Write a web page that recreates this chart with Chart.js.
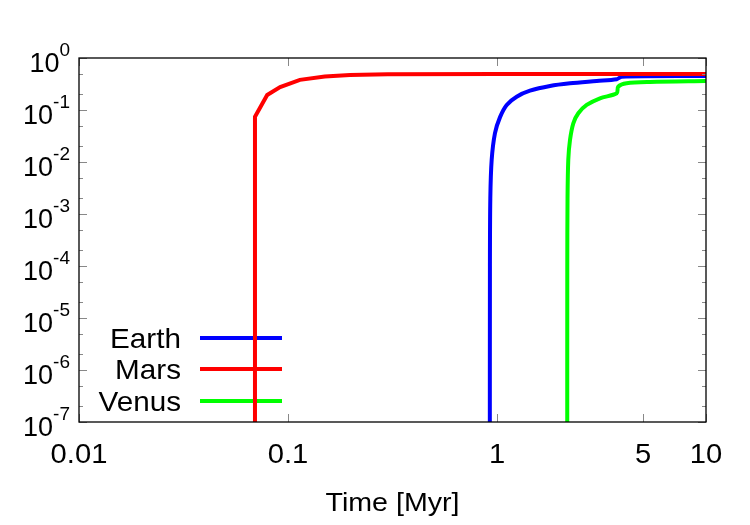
<!DOCTYPE html>
<html>
<head>
<meta charset="utf-8">
<script src="https://cdn.jsdelivr.net/npm/chart.js@4/dist/chart.umd.min.js"></script>
<style>
  html, body { margin: 0; padding: 0; background: #fff; }
  #wrap { width: 750px; height: 525px; }
</style>
</head>
<body>
<div id="wrap"><canvas id="myChart" width="750" height="525"></canvas></div>
<script>
'use strict';
// data (time in Myr, fraction on log axis)
const earthTime = [0.924, 0.925, 0.929, 0.943, 0.978, 1.034, 1.113, 1.242, 1.438, 1.793, 2.235, 3.0, 3.74, 3.95, 10];
const earthValue = [1e-8, 1e-4, 0.002, 0.011, 0.036, 0.073, 0.125, 0.18, 0.235, 0.29, 0.326, 0.361, 0.39, 0.437, 0.45];

const marsTime = [0.0694, 0.0695, 0.0795, 0.0917, 0.114, 0.15, 0.198, 0.3, 1, 10];
const marsValue = [1e-8, 0.074, 0.195, 0.276, 0.38, 0.44, 0.47, 0.485, 0.49, 0.49];

const venusTime = [2.168, 2.169, 2.175, 2.193, 2.235, 2.318, 2.449, 2.686, 3.11, 3.74, 3.80, 4.17, 5.4, 10];
const venusValue = [1e-8, 1e-4, 0.002, 0.011, 0.0265, 0.0555, 0.0864, 0.125, 0.168, 0.21, 0.28, 0.326, 0.346, 0.361];

const seriesNames = ['Earth', 'Mars', 'Venus'];
const seriesColors = ['#0000ff', '#ff0000', '#00ff00'];

const xTickValues = [0.01, 0.1, 1, 5, 10];
const xTickLabels = ['0.01', '0.1', '1', '5', '10'];
const yTickExponents = [0, -1, -2, -3, -4, -5, -6, -7];
const yMinorMantissas = [2, 5];
const xTitle = 'Time [Myr]';

const FONT = '"Liberation Sans", Arial, Helvetica, sans-serif';

function toPoints(xs, ys) {
  let pts = [];
  for (let i = 0; i < xs.length; i++) { pts.push({ x: xs[i], y: ys[i] }); }
  return pts;
}

function drawText(ctx, text, x, y, align, size, stretch) {
  ctx.save();
  ctx.font = size + 'px ' + FONT;
  ctx.textBaseline = 'alphabetic';
  ctx.textAlign = align;
  ctx.translate(x, y);
  ctx.scale(stretch, 1);
  ctx.fillText(text, 0, 0);
  ctx.restore();
}

const frame = {
  id: 'frame',
  beforeDatasetsDraw(chart) {
    const ctx = chart.ctx;
    // key: text on the left, sample line on the right
    const rows = [338, 369, 401];
    ctx.save();
    ctx.fillStyle = '#000';
    chart.data.datasets.forEach((ds, i) => {
      drawText(ctx, ds.label, 181, rows[i] + 10, 'right', 28, 1.06);
      ctx.strokeStyle = ds.borderColor;
      ctx.lineWidth = 4;
      ctx.beginPath();
      ctx.moveTo(200, rows[i]);
      ctx.lineTo(282, rows[i]);
      ctx.stroke();
    });
    ctx.restore();
  },
  afterDatasetsDraw(chart) {
    const ctx = chart.ctx;
    const a = chart.chartArea;
    const xs = chart.scales.x;
    const ys = chart.scales.y;
    ctx.save();
    // tick marks, pointing inward on all four sides
    ctx.strokeStyle = '#888';
    ctx.lineWidth = 1;
    ctx.beginPath();
    xTickValues.forEach(v => {
      const px = Math.round(xs.getPixelForValue(v)) + 0.5;
      ctx.moveTo(px, a.bottom); ctx.lineTo(px, a.bottom - 8);
      ctx.moveTo(px, a.top); ctx.lineTo(px, a.top + 8);
    });
    yTickExponents.forEach(e => {
      const py = Math.round(ys.getPixelForValue(Math.pow(10, e))) + 0.5;
      ctx.moveTo(a.left, py); ctx.lineTo(a.left + 8, py);
      ctx.moveTo(a.right, py); ctx.lineTo(a.right - 8, py);
      if (e > -7) {
        yMinorMantissas.forEach(m => {
          const pm = Math.round(ys.getPixelForValue(m * Math.pow(10, e - 1))) + 0.5;
          ctx.moveTo(a.left, pm); ctx.lineTo(a.left + 4, pm);
          ctx.moveTo(a.right, pm); ctx.lineTo(a.right - 4, pm);
        });
      }
    });
    ctx.stroke();

    // border
    ctx.strokeStyle = '#000';
    ctx.lineWidth = 1.3;
    ctx.strokeRect(a.left, a.top, a.right - a.left, a.bottom - a.top);

    ctx.fillStyle = '#000';
    // x tick labels
    xTickValues.forEach((v, i) => {
      drawText(ctx, xTickLabels[i], xs.getPixelForValue(v), 463, 'center', 27, 1.08);
    });
    // y tick labels as 10^n
    yTickExponents.forEach(e => {
      const py = ys.getPixelForValue(Math.pow(10, e));
      ctx.font = '19px ' + FONT;
      const sup = String(e);
      const supW = ctx.measureText(sup).width;
      drawText(ctx, sup, 70, py - 2, 'right', 19, 1);
      drawText(ctx, '10', 70 - supW, py + 14, 'right', 27, 1);
    });
    // axis title
    drawText(ctx, xTitle, (a.left + a.right) / 2, 511, 'center', 26, 1.1);
    ctx.restore();
  }
};

const ctx = document.getElementById('myChart').getContext('2d');
const timeSeries = [toPoints(earthTime, earthValue), toPoints(marsTime, marsValue), toPoints(venusTime, venusValue)];

new Chart(ctx, {
  type: 'line',
  data: {
    datasets: seriesNames.map((name, i) => ({
      label: name,
      data: timeSeries[i],
      borderColor: seriesColors[i],
      backgroundColor: seriesColors[i],
      borderWidth: 4,
      pointRadius: 0,
      fill: false,
      clip: 0,
      tension: name === 'Mars' ? 0 : 0.3,
      order: name === 'Mars' ? 0 : 1
    }))
  },
  options: {
    responsive: false,
    animation: false,
    layout: { padding: { left: 79, right: 44, top: 58, bottom: 103 } },
    plugins: { legend: { display: false }, tooltip: { enabled: false } },
    scales: {
      x: { type: 'logarithmic', min: 0.01, max: 10, display: false },
      y: { type: 'logarithmic', min: 1e-7, max: 1, display: false }
    }
  },
  plugins: [frame]
});
</script>
</body>
</html>
